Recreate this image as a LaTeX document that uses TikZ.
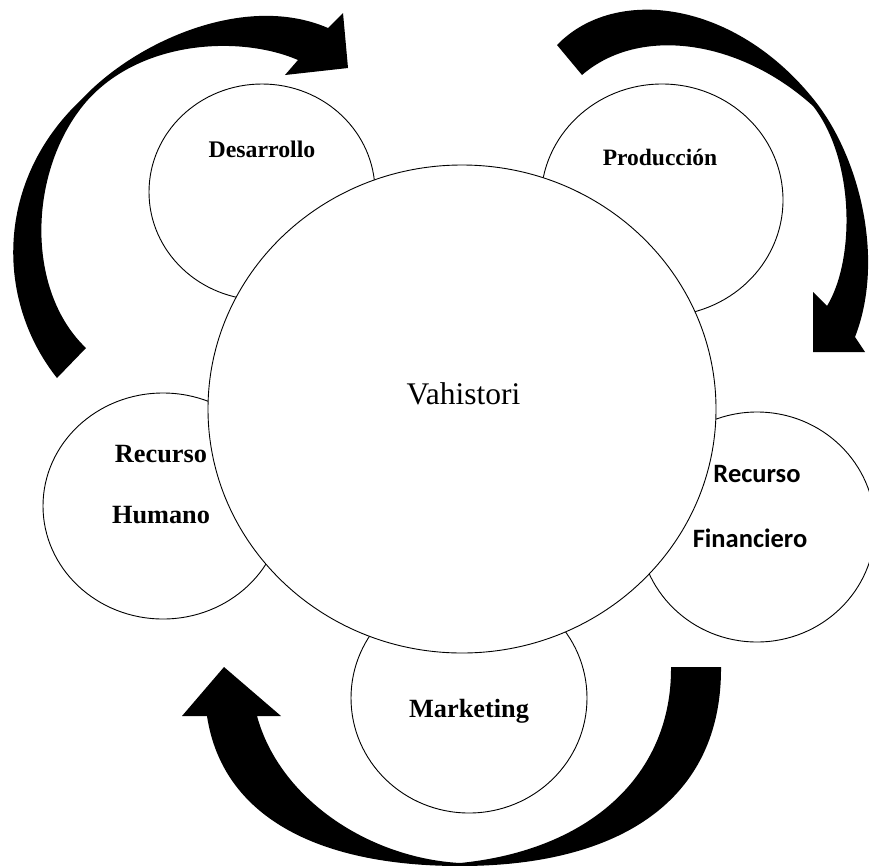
\documentclass[tikz,border=0pt]{standalone}
\usepackage{fontspec}
\setmainfont{Liberation Serif}
\newfontfamily\calib{Carlito}
\usetikzlibrary{shapes.geometric}
\begin{document}
\begin{tikzpicture}[x=1pt,y=-1pt,
  circ/.style={ellipse,draw=black,line width=0.9pt,fill=white,inner sep=0pt},
  lbl/.style={inner sep=0pt,anchor=base,font=\bfseries\fontsize{#1}{#1}\selectfont},
  lbl/.default=24pt,
  arrowfill/.style={fill=black}]
\useasboundingbox (0,0) rectangle (869,865);
\clip (0,0) rectangle (869,865);
% small circles
\node[circ,minimum width=226pt,minimum height=216pt] (cdes) at (262,192) {};
\node[circ,minimum width=242pt,minimum height=232pt] (cpro) at (662,200) {};
\node[circ,minimum width=240pt,minimum height=226pt] (chum) at (163,506) {};
\node[circ,minimum width=236pt,minimum height=230pt] (cfin) at (757,527) {};
\node[circ,minimum width=236pt,minimum height=230pt] (cmar) at (469,698) {};
% big circle
\node[circ,minimum width=508pt,minimum height=488pt] (cvah) at (462,409) {};
% labels
\node[lbl=23.8pt] (tdes) at (262,157) {Desarrollo};
\node[lbl=23.5pt] (tpro) at (660,165) {Producción};
\node[lbl=26.3pt] (thum1) at (161,462) {Recurso};
\node[lbl=26.3pt] (thum2) at (161,523) {Humano};
\node[lbl=26.3pt] (tmar) at (469,717) {Marketing};
\node[inner sep=0pt,anchor=base,font=\fontsize{31.5pt}{31.5pt}\selectfont] (tvah) at (463.5,404) {Vahistori};
\node[inner sep=0pt,anchor=base,font=\calib\bfseries\fontsize{26.5pt}{26.5pt}\selectfont] (tfin1) at (757,482) {Recurso};
\node[inner sep=0pt,anchor=base,font=\calib\bfseries\fontsize{26.5pt}{26.5pt}\selectfont] (tfin2) at (750,547) {Financiero};
% arrow 1 (top left)
\fill[arrowfill] (57,378) .. controls (-5,300) and (-5,180) .. (82,99)
  .. controls (135,42) and (245,-8) .. (328,28)
  -- (343,13) -- (348,68) -- (285,75) -- (298,60)
  .. controls (240,35) and (140,40) .. (86,102)
  .. controls (28,170) and (25,290) .. (86,348)
  -- cycle;
% arrow 2 (top right)
\fill[arrowfill] (557,45) .. controls (615,-15) and (735,0) .. (815,101)
  .. controls (860,158) and (885,260) .. (855,337)
  -- (865,352) -- (813,352) -- (813,292) -- (827,306)
  .. controls (855,260) and (855,160) .. (813,106)
  .. controls (740,40) and (640,25) .. (582,75)
  -- cycle;
% arrow 3 (bottom)
\fill[arrowfill] (721,667) .. controls (722,800) and (620,866) .. (460,866)
  .. controls (315,866) and (222,815) .. (207,716)
  -- (182,716) -- (224,667) -- (281,716) -- (257,716)
  .. controls (280,800) and (370,858) .. (460,863)
  .. controls (590,850) and (672,775) .. (671,667)
  -- cycle;
\end{tikzpicture}
\end{document}
